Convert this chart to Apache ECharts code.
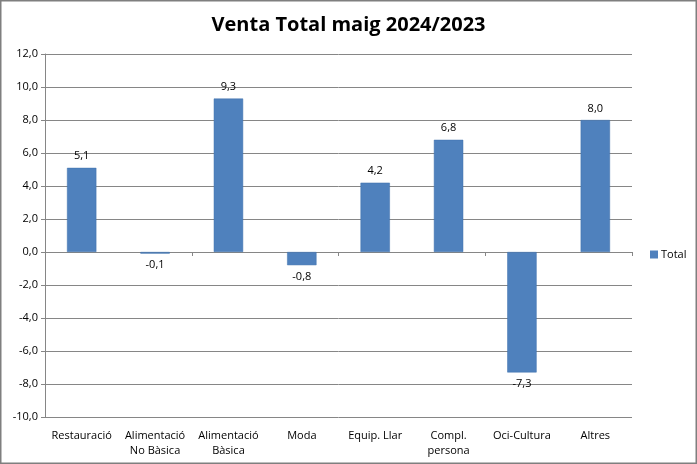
<!DOCTYPE html>
<html><head><meta charset="utf-8">
<script src="https://cdn.jsdelivr.net/npm/echarts@6/dist/echarts.min.js"></script>
<style>html,body{margin:0;padding:0;background:#fff}#c{width:697px;height:464px}</style>
</head><body><div id="c"></div>
<script>
const categories = ['Restauració', 'Alimentació\nNo Bàsica', 'Alimentació\nBàsica', 'Moda', 'Equip. Llar', 'Compl.\npersona', 'Oci-Cultura', 'Altres'];
const totalValues = [5.1, -0.1, 9.3, -0.8, 4.2, 6.8, -7.3, 8.0];
const seriesName = 'Total';
const titleText = 'Venta Total maig 2024/2023';
const fmt = v => Number(v).toFixed(1).replace('.', ',');
const font = '"Open Sans", "Liberation Sans", sans-serif';
const chart = echarts.init(document.getElementById('c'));
chart.setOption({
  animation: false,
  title: { text: titleText, left: 'center', top: 10, textStyle: { fontFamily: font, fontWeight: 'bold', fontSize: 20, color: '#000' } },
  legend: { data: [seriesName], orient: 'vertical', left: 645, top: 244, itemWidth: 8, itemHeight: 8, itemGap: 4, icon: 'rect',
    itemStyle: { borderWidth: 0 },
    textStyle: { fontFamily: font, fontSize: 11, color: '#000', padding: [0,0,0,-2] } },
  grid: { left: 45, right: 65, top: 54, bottom: 47 },
  xAxis: [
    { type: 'category', data: categories, position: 'bottom', axisLine: { show: false, onZero: false }, axisTick: { show: false },
      axisLabel: { fontFamily: font, fontSize: 11, color: '#000', margin: 11, lineHeight: 15, interval: 0 } },
    { type: 'category', data: categories, position: 'bottom', axisLine: { show: true, onZero: true, lineStyle: { color: '#868686', width: 1 } },
      axisTick: { show: true, inside: false, length: 4, lineStyle: { color: '#868686' } }, axisLabel: { show: false } }
  ],
  yAxis: { type: 'value', min: -10, max: 12, interval: 2,
    axisLine: { show: true, lineStyle: { color: '#868686' } },
    axisTick: { show: true, length: 4, lineStyle: { color: '#868686' } },
    splitLine: { lineStyle: { color: '#868686', width: 1 } },
    axisLabel: { formatter: fmt, fontFamily: font, fontSize: 11, color: '#000', margin: 7 } },
  series: [{ name: seriesName, type: 'bar', xAxisIndex: 0, barWidth: '40%',
    data: totalValues.map(v => v < 0 ? { value: v, label: { position: 'bottom' } } : v),
    itemStyle: { color: '#4F81BD', borderColor: '#3f71ad', borderWidth: 0.5 },
    label: { show: true, formatter: p => fmt(p.value), fontFamily: font, fontSize: 11, color: '#000',
      position: 'top', distance: 6 }
  }],
  graphic: [{ type: 'rect', shape: { x: 0.75, y: 0.75, width: 695.5, height: 462.5 }, style: { fill: 'none', stroke: '#7f7f7f', lineWidth: 1.5 }, silent: true }]
});
</script></body></html>
